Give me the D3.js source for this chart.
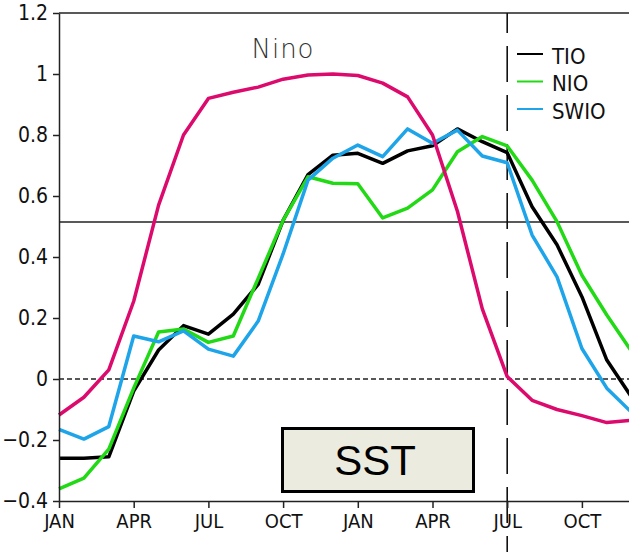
<!doctype html>
<html>
<head>
<meta charset="utf-8">
<style>
body { margin: 0; background: #fff; }
.axis text, .leg text { font-family: "Liberation Sans Narrow", "DejaVu Sans", sans-serif; font-stretch: condensed; fill: #111; }
.axis path, .axis line { stroke: #222; stroke-width: 1.5; }
.series { fill: none; stroke-width: 3.5; stroke-linejoin: round; }
</style>
<script src="https://d3js.org/d3.v7.min.js"></script>
</head>
<body>
<svg width="629" height="552"></svg>
<script>
// months run Jan (year 0) .. Dec (year 1)
var tickIdx = [0, 3, 6, 9, 12, 15, 18, 21];
var tickLabels = ["JAN", "APR", "JUL", "OCT", "JAN", "APR", "JUL", "OCT"];
var yTicks = [-0.4, -0.2, 0, 0.2, 0.4, 0.6, 0.8, 1, 1.2];

var nino = [-0.118, -0.06, 0.03, 0.255, 0.57, 0.80, 0.92, 0.94, 0.957, 0.983, 0.997, 1.0,
            0.995, 0.97, 0.925, 0.80, 0.55, 0.23, 0.008, -0.07, -0.10, -0.12, -0.143, -0.135];
var tio = [-0.26, -0.26, -0.255, -0.04, 0.095, 0.175, 0.147, 0.213, 0.31, 0.52, 0.67, 0.734,
           0.74, 0.707, 0.748, 0.765, 0.82, 0.778, 0.742, 0.565, 0.44, 0.27, 0.062, -0.06];
var nio = [-0.36, -0.325, -0.23, -0.03, 0.154, 0.164, 0.12, 0.141, 0.33, 0.52, 0.663, 0.642,
           0.64, 0.528, 0.56, 0.62, 0.745, 0.795, 0.764, 0.652, 0.516, 0.34, 0.21, 0.09];
var swio = [-0.165, -0.197, -0.156, 0.141, 0.122, 0.158, 0.098, 0.075, 0.19, 0.41, 0.652, 0.724,
            0.767, 0.729, 0.82, 0.773, 0.816, 0.731, 0.709, 0.472, 0.335, 0.1, -0.03, -0.11];

var refLevel = 0.515;
var markMonth = 18;

var series = [
	{name: "TIO", values: tio, color: "#000000"},
	{name: "NIO", values: nio, color: "#22d915"},
	{name: "SWIO", values: swio, color: "#1ea4e9"},
	{name: "Nino", values: nino, color: "#dc0a6c"}
];

var svg = d3.select("svg");
var pl = 59, pt = 13, pb = 501, pr = 629;

var x = d3.scaleLinear().domain([0, 23]).range([pl, pl + 23 * 24.9]);
var y = d3.scaleLinear().domain([-0.4, 1.2]).range([pb, pt]);

function fmt(d) {
	var s = d === 0 ? "0" : (d === 1 ? "1" : d3.format(".1f")(Math.abs(d)));
	return d < 0 ? "\u2212" + s : s;
}

// frame top
svg.append("line").attr("x1", pl).attr("x2", pr).attr("y1", pt).attr("y2", pt)
	.attr("stroke", "#222").attr("stroke-width", 1.5);

// reference lines
svg.append("line").attr("x1", pl).attr("x2", pr).attr("y1", y(refLevel)).attr("y2", y(refLevel))
	.attr("stroke", "#222").attr("stroke-width", 1.5);
svg.append("line").attr("x1", pl).attr("x2", pr).attr("y1", y(0)).attr("y2", y(0))
	.attr("stroke", "#222").attr("stroke-width", 1.3).attr("stroke-dasharray", "5,3");
svg.append("line").attr("x1", x(markMonth)).attr("x2", x(markMonth)).attr("y1", pt).attr("y2", 552)
	.attr("stroke", "#111").attr("stroke-width", 1.6)
	.attr("stroke-dasharray", "36,13").attr("stroke-dashoffset", 16);

var line = d3.line()
	.x(function(d, i) { return x(i); })
	.y(function(d) { return y(d); });

svg.append("g").selectAll("path").data(series).enter().append("path")
	.attr("class", "series")
	.attr("stroke", function(d) { return d.color; })
	.attr("d", function(d) { return line(d.values); });

// axes
var ya = svg.append("g").attr("class", "axis").attr("transform", "translate(" + pl + ",0)")
	.call(d3.axisLeft(y).tickValues(yTicks).tickFormat(fmt).tickSize(6).tickSizeOuter(0).tickPadding(5));
ya.selectAll("text").attr("font-size", 21);

var xa = svg.append("g").attr("class", "axis").attr("transform", "translate(0," + pb + ")")
	.call(d3.axisBottom(x).tickValues(tickIdx).tickFormat(function(d, i) { return tickLabels[i]; })
		.tickSize(7).tickSizeOuter(0).tickPadding(6));
xa.selectAll("text").attr("font-size", 20);

// labels
svg.append("text").attr("x", 283).attr("y", 58).attr("text-anchor", "middle")
	.attr("font-family", "DejaVu Sans").attr("font-weight", 200).attr("font-size", 26)
	.attr("letter-spacing", 1).attr("fill", "#333").text("Nino");

var leg = svg.append("g").attr("class", "leg").selectAll("g").data(series.slice(0, 3)).enter().append("g")
	.attr("transform", function(d, i) { return "translate(517," + (54 + i * 27.5) + ")"; });
leg.append("line").attr("x1", 0).attr("x2", 26).attr("stroke-width", 2)
	.attr("stroke", function(d) { return d.color; });
leg.append("text").attr("x", 35).attr("y", 9.5)
	.attr("font-size", 22).attr("fill", "#222").text(function(d) { return d.name; });

svg.append("rect").attr("x", 282.5).attr("y", 428.5).attr("width", 191).attr("height", 63)
	.attr("fill", "#ecebe0").attr("stroke", "#000").attr("stroke-width", 3);
svg.append("text").attr("x", 375).attr("y", 475).attr("text-anchor", "middle")
	.attr("font-family", "Liberation Sans, Arial, sans-serif").attr("font-size", 42)
	.attr("fill", "#000").text("SST");
</script>
</body>
</html>
